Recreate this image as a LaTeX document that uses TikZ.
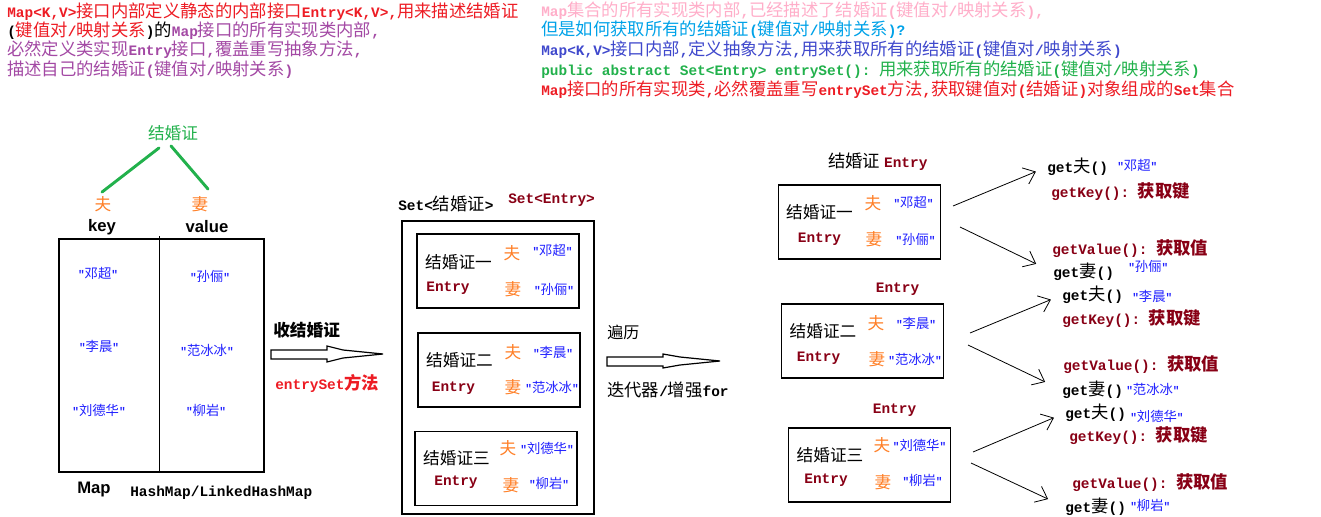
\documentclass[tikz,border=0pt]{standalone}
\usepackage{fontspec}
\setmainfont{Noto Sans CJK SC}
\setsansfont{Liberation Sans}
\setmonofont{Liberation Mono}[Scale=0.833]
\usepackage{xcolor}
\usetikzlibrary{arrows.meta}
\definecolor{MRed}{HTML}{ED1C24}
\definecolor{MPurple}{HTML}{A349A4}
\definecolor{MPink}{HTML}{FFAEC9}
\definecolor{MCyan}{HTML}{00A2E8}
\definecolor{MIndigo}{HTML}{3F48CC}
\definecolor{MGreen}{HTML}{22B14C}
\definecolor{MOrange}{HTML}{FF7F27}
\definecolor{MDark}{HTML}{880015}
\definecolor{MBlue}{HTML}{1F1FFF}
\newcommand\latn[1]{{\ttfamily\bfseries #1}}
\newcommand\qn[1]{\latn{"}#1\latn{"}}

\begin{document}
\begin{tikzpicture}[
  x=0.75pt,y=-0.75pt,
  every node/.style={inner sep=0pt},
  note/.style={anchor=west,font=\fontsize{13}{15}\selectfont},
  cn/.style={font=\fontsize{12.5}{15}\selectfont},
  who/.style={text=MOrange,font=\fontsize{12.5}{15}\selectfont},
  star/.style={text=MBlue,font=\fontsize{10}{12}\selectfont},
  ent/.style={text=MDark,font=\fontsize{13}{15}\selectfont\ttfamily\bfseries},
  en/.style={font=\fontsize{12.5}{15}\selectfont\sffamily\bfseries},
  card/.style={draw,line width=1pt,minimum width=121.5pt,minimum height=55.5pt},
  get/.style={anchor=west,font=\fontsize{13}{15}\selectfont},
  tie/.style={MGreen,line width=2.2pt,line cap=round},
  hollow/.style={draw,line width=0.9pt,fill=white},
  a/.style={-{Straight Barb[length=8pt,width=13pt]},line width=0.6pt}
]
  \useasboundingbox (0,0) rectangle (1321,517);

  % notes at the top
  \node[note,text=MRed] (tl1) at (7,12) {\latn{Map<K,V>}接口内部定义静态的内部接口\latn{Entry<K,V>,}用来描述结婚证};
  \node[note] (tl2) at (7,31) {\latn{(}\textcolor{MRed}{键值对\latn{/}映射关系}\latn{)}的\textcolor{MPurple}{\latn{Map}接口的所有实现类内部\latn{,}}};
  \node[note,text=MPurple] (tl3) at (7,50) {必然定义类实现\latn{Entry}接口\latn{,}覆盖重写抽象方法\latn{,}};
  \node[note,text=MPurple] (tl4) at (7,70) {描述自己的结婚证\latn{(}键值对\latn{/}映射关系\latn{)}};

  \node[note,text=MPink] (tr1) at (541,11) {\latn{Map}集合的所有实现类内部\latn{,}已经描述了结婚证\latn{(}键值对\latn{/}映射关系\latn{),}};
  \node[note,text=MCyan] (tr2) at (541,30) {但是如何获取所有的结婚证\latn{(}键值对\latn{/}映射关系\latn{)?}};
  \node[note,text=MIndigo] (tr3) at (541,50) {\latn{Map<K,V>}接口内部\latn{,}定义抽象方法\latn{,}用来获取所有的结婚证\latn{(}键值对\latn{/}映射关系\latn{)}};
  \node[note,text=MGreen] (tr4) at (541,70) {\latn{public abstract Set<Entry> entrySet(): }用来获取所有的结婚证\latn{(}键值对\latn{/}映射关系\latn{)}};
  \node[note,text=MRed] (tr5) at (541,90) {\latn{Map}接口的所有实现类\latn{,}必然覆盖重写\latn{entrySet}方法\latn{,}获取键值对\latn{(}结婚证\latn{)}对象组成的\latn{Set}集合};

  % the map
  \node[cn,text=MGreen] (jhz) at (173,133) {结婚证};
  \node[who] (fu) at (103,204) {夫};
  \node[who] (qi) at (200,204) {妻};
  \draw[tie] ([shift={(-14,7)}]jhz.south) -- ([shift={(-1,-4)}]fu.north);
  \draw[tie] ([shift={(-2,5)}]jhz.south) -- ([shift={(8,-7)}]qi.north);
  \node[en] (key) at (102,227) {key};
  \node[en] (val) at (207,227) {value};
  \node[draw,line width=0.9pt,minimum width=153.75pt,minimum height=174.75pt] (map) at (161.5,355.5) {};
  \draw[line width=0.9pt] (map.north) ++(-2,-2) coordinate (mtop) -- ++(0,237);
  \node[star] (k1) at (98,273) {\qn{邓超}};
  \node[star] (v1) at (210,276) {\qn{孙俪}};
  \node[star] (k2) at (99,346) {\qn{李晨}};
  \node[star] (v2) at (207,350) {\qn{范冰冰}};
  \node[star] (k3) at (99,410) {\qn{刘德华}};
  \node[star] (v3) at (206,410) {\qn{柳岩}};
  \node[en] (mapl) at (94,489) {Map};
  \node[anchor=west,font=\fontsize{13}{15}\selectfont\ttfamily\bfseries] (impl) at (130,493) {HashMap/LinkedHashMap};

  % entrySet
  \node[note,font=\fontsize{12.5}{15}\selectfont\bfseries] (shou) at (273,330) {收结婚证};
  \draw[hollow] (271,350) -- (327,350) -- (327,346) -- (343,350) -- (383,354) -- (343,358) -- (327,362) -- (327,359) -- (271,359) -- cycle;
  \node[note,text=MRed,font=\fontsize{13}{15}\selectfont\bfseries] (es) at (275,383) {\latn{entrySet}方法};

  % the set
  \node[note] (setj) at (398,204) {\latn{Set<}结婚证\latn{>}};
  \node[ent,anchor=west] (sete) at (508,200) {Set<Entry>};
  \node[draw,line width=1pt,minimum width=144pt,minimum height=219.75pt] (set) at (498,367.5) {};
  \node[card] (m1) at (498,271) {};
  \node[card] (m2) at (499,370) {};
  \node[card] (m3) at (496,468.5) {};
  \node[cn] (m1t) at (458.5,262) {结婚证一};
  \node[ent] (m1e) at (448,288) {Entry};
  \node[who] (m1f) at (512,253) {夫};
  \node[who] (m1q) at (513,289) {妻};
  \node[star] (m1k) at (552.5,250) {\qn{邓超}};
  \node[star] (m1v) at (554,289) {\qn{孙俪}};
  \node[cn] (m2t) at (459.5,360) {结婚证二};
  \node[ent] (m2e) at (453.5,388) {Entry};
  \node[who] (m2f) at (513,352) {夫};
  \node[who] (m2q) at (513,387) {妻};
  \node[star] (m2k) at (553,352) {\qn{李晨}};
  \node[star] (m2v) at (552,387) {\qn{范冰冰}};
  \node[cn] (m3t) at (456.5,458) {结婚证三};
  \node[ent] (m3e) at (456,482) {Entry};
  \node[who] (m3f) at (508,448) {夫};
  \node[who] (m3q) at (511,485) {妻};
  \node[star] (m3k) at (547,448) {\qn{刘德华}};
  \node[star] (m3v) at (549,483) {\qn{柳岩}};

  % iterate
  \node[note,font=\fontsize{12}{15}\selectfont] (bl) at (607,332) {遍历};
  \draw[hollow] (607,357) -- (663,357) -- (663,354) -- (680,357) -- (720,361) -- (680,365) -- (663,368) -- (663,366) -- (607,366) -- cycle;
  \node[note] (itr) at (607,390) {迭代器\latn{/}增强\latn{for}};

  % the entries
  \node[note] (hd1) at (828,162) {结婚证 \textcolor{MDark}{\latn{Entry}}};
  \node[ent] (hd2) at (897.5,289) {Entry};
  \node[ent] (hd3) at (894.5,410) {Entry};
  \node[card] (r1) at (859.5,222) {};
  \node[card] (r2) at (862.5,341) {};
  \node[card] (r3) at (869.5,465) {};
  \node[cn] (r1t) at (819.5,212) {结婚证一};
  \node[ent] (r1e) at (819.5,239) {Entry};
  \node[who] (r1f) at (873,203) {夫};
  \node[who] (r1q) at (874,239) {妻};
  \node[star] (r1k) at (913.5,202) {\qn{邓超}};
  \node[star] (r1v) at (915.5,239) {\qn{孙俪}};
  \node[cn] (r2t) at (823,331) {结婚证二};
  \node[ent] (r2e) at (818.5,358) {Entry};
  \node[who] (r2f) at (876,323) {夫};
  \node[who] (r2q) at (877,359) {妻};
  \node[star] (r2k) at (916,323) {\qn{李晨}};
  \node[star] (r2v) at (915,359) {\qn{范冰冰}};
  \node[cn] (r3t) at (830,455) {结婚证三};
  \node[ent] (r3e) at (826,480) {Entry};
  \node[who] (r3f) at (882,445) {夫};
  \node[who] (r3q) at (883,482) {妻};
  \node[star] (r3k) at (919.5,445) {\qn{刘德华}};
  \node[star] (r3v) at (922.5,480) {\qn{柳岩}};

  % getters
  \node[get] (g1) at (1047,167) {\latn{get}夫\latn{()}};
  \node[star,anchor=west] (g1s) at (1117,165) {\qn{邓超}};
  \node[get,text=MDark,font=\fontsize{13}{15}\selectfont\bfseries] (gk1) at (1051,192) {\latn{getKey(): }获取键};
  \node[get,text=MDark,font=\fontsize{13}{15}\selectfont\bfseries] (gv1) at (1052,249) {\latn{getValue(): }获取值};
  \node[get] (w1) at (1053,272) {\latn{get}妻\latn{()}};
  \node[star,anchor=west] (w1s) at (1128,266) {\qn{孙俪}};
  \node[get] (g2) at (1062,295) {\latn{get}夫\latn{()}};
  \node[star,anchor=west] (g2s) at (1132,296) {\qn{李晨}};
  \node[get,text=MDark,font=\fontsize{13}{15}\selectfont\bfseries] (gk2) at (1062,319) {\latn{getKey(): }获取键};
  \node[get,text=MDark,font=\fontsize{13}{15}\selectfont\bfseries] (gv2) at (1063,365) {\latn{getValue(): }获取值};
  \node[get] (w2) at (1062,390) {\latn{get}妻\latn{()}};
  \node[star,anchor=west] (w2s) at (1126,389) {\qn{范冰冰}};
  \node[get] (g3) at (1065,413) {\latn{get}夫\latn{()}};
  \node[star,anchor=west] (g3s) at (1130,416) {\qn{刘德华}};
  \node[get,text=MDark,font=\fontsize{13}{15}\selectfont\bfseries] (gk3) at (1069,436) {\latn{getKey(): }获取键};
  \node[get,text=MDark,font=\fontsize{13}{15}\selectfont\bfseries] (gv3) at (1072,483) {\latn{getValue(): }获取值};
  \node[get] (w3) at (1065,507) {\latn{get}妻\latn{()}};
  \node[star,anchor=west] (w3s) at (1130,505) {\qn{柳岩}};

  \coordinate (o1) at (953,206);
  \coordinate (o2) at (960,227);
  \coordinate (o3) at (970,333);
  \coordinate (o4) at (968,345);
  \coordinate (o5) at (973,452);
  \coordinate (o6) at (971,463);
  \foreach \s/\t in {o1/g1,o3/g2,o5/g3}
    {\draw[a,shorten >=9pt] (\s) -- (\t.west);}
  \foreach \s/\t in {o2/w1,o4/w2,o6/w3}
    {\draw[a,shorten >=14pt] (\s) -- (\t.west);}
\end{tikzpicture}
\end{document}
